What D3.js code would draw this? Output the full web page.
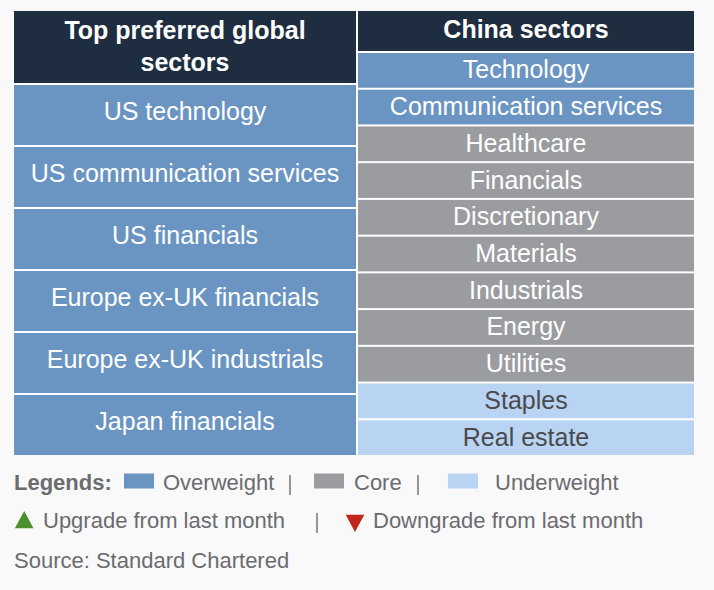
<!DOCTYPE html>
<html>
<head>
<meta charset="utf-8">
<script src="https://cdn.jsdelivr.net/npm/d3@7"></script>
<style>
html,body{margin:0;padding:0;background:#f9f9f9;}
svg{display:block;font-family:"Liberation Sans",Arial,Helvetica,sans-serif;}
</style>
</head>
<body>
<svg id="chart" width="714" height="590"></svg>
<script>
// ---- data ----
const headers = ["Top preferred global sectors", "China sectors"];
const globalSectors = ["US technology", "US communication services", "US financials",
  "Europe ex-UK financials", "Europe ex-UK industrials", "Japan financials"];
const globalViews = ["Overweight", "Overweight", "Overweight", "Overweight", "Overweight", "Overweight"];
const chinaSectors = ["Technology", "Communication services", "Healthcare", "Financials",
  "Discretionary", "Materials", "Industrials", "Energy", "Utilities", "Staples", "Real estate"];
const chinaViews = ["Overweight", "Overweight", "Core", "Core", "Core", "Core", "Core", "Core", "Core",
  "Underweight", "Underweight"];
const legendViews = ["Overweight", "Core", "Underweight"];
const changeLabels = ["Upgrade from last month", "Downgrade from last month"];
const sourceText = "Source: Standard Chartered";

// ---- styles ----
const fill = d3.scaleOrdinal().domain(["Overweight", "Core", "Underweight"])
  .range(["#6a94c1", "#9b9ca0", "#b9d4f2"]);
const textFill = d3.scaleOrdinal().domain(["Overweight", "Core", "Underweight"])
  .range(["#ffffff", "#ffffff", "#4a4a4d"]);
const headerFill = "#1f2d40";
const legendColor = "#6b6b70";

const svg = d3.select("#chart");

// table frame
const tLeft = 14, tMid = 357, tRight = 694, tTop = 11, tBottom = 455;
svg.append("rect").attr("x", tLeft).attr("y", tTop).attr("width", tRight - tLeft).attr("height", tBottom - tTop)
  .attr("fill", "#ffffff");

const xCol = d3.scaleOrdinal().domain([0, 1]).range([[tLeft, tMid - 1], [tMid + 1, tRight]]);

// headers
const lx = xCol(0), rx = xCol(1);
svg.append("rect").attr("x", lx[0]).attr("y", tTop).attr("width", lx[1] - lx[0]).attr("height", 72).attr("fill", headerFill);
svg.append("rect").attr("x", rx[0]).attr("y", tTop).attr("width", rx[1] - rx[0]).attr("height", 40).attr("fill", headerFill);

const h1 = svg.append("text").attr("x", (lx[0] + lx[1]) / 2).attr("text-anchor", "middle")
  .attr("font-size", 25).attr("font-weight", "bold").attr("fill", "#fff");
const words = headers[0].split(" ");
h1.append("tspan").attr("x", (lx[0] + lx[1]) / 2).attr("y", 39).text(words.slice(0, 3).join(" "));
h1.append("tspan").attr("x", (lx[0] + lx[1]) / 2).attr("y", 71).text(words.slice(3).join(" "));

svg.append("text").attr("x", (rx[0] + rx[1]) / 2).attr("y", 38).attr("text-anchor", "middle")
  .attr("font-size", 25).attr("font-weight", "bold").attr("fill", "#fff").text(headers[1]);

// left column
const yL = d3.scaleBand().domain(globalSectors).range([85, tBottom + 2]);
const gL = svg.append("g").selectAll("g").data(globalSectors).join("g");
gL.append("rect").attr("x", lx[0]).attr("y", d => yL(d)).attr("width", lx[1] - lx[0])
  .attr("height", yL.bandwidth() - 2).attr("fill", (d, i) => fill(globalViews[i]));
gL.append("text").attr("x", (lx[0] + lx[1]) / 2).attr("y", d => yL(d) + (yL.bandwidth() - 2) / 2 + 4.5)
  .attr("text-anchor", "middle").attr("font-size", 25).attr("fill", (d, i) => textFill(globalViews[i])).text(d => d);

// right column
const yR = d3.scaleBand().domain(chinaSectors).range([53, tBottom + 2]);
const gR = svg.append("g").selectAll("g").data(chinaSectors).join("g");
gR.append("rect").attr("x", rx[0]).attr("y", d => yR(d)).attr("width", rx[1] - rx[0])
  .attr("height", yR.bandwidth() - 2).attr("fill", (d, i) => fill(chinaViews[i]));
gR.append("text").attr("x", (rx[0] + rx[1]) / 2).attr("y", d => yR(d) + (yR.bandwidth() - 2) / 2 + 8)
  .attr("text-anchor", "middle").attr("font-size", 25).attr("fill", (d, i) => textFill(chinaViews[i])).text(d => d);

// legend row 1
const fs = 22;
svg.append("text").attr("x", 14).attr("y", 490).attr("font-size", fs).attr("font-weight", "bold")
  .attr("fill", legendColor).text("Legends:");
const swX = [124, 314, 448], labX = [163, 354, 495], sepX1 = [290, 418];
legendViews.forEach((v, i) => {
  svg.append("rect").attr("x", swX[i]).attr("y", 473.5).attr("width", 30).attr("height", 15).attr("fill", fill(v));
  svg.append("text").attr("x", labX[i]).attr("y", 490).attr("font-size", fs).attr("fill", legendColor).text(v);
});
sepX1.forEach(x => svg.append("line").attr("x1", x).attr("x2", x).attr("y1", 475).attr("y2", 495)
  .attr("stroke", legendColor).attr("stroke-width", 1.4));

// legend row 2
svg.append("path").attr("d", d3.symbol(d3.symbolTriangle, 150)())
  .attr("transform", "translate(24.2,522.5) scale(1,1.07)").attr("fill", "#4b8f2e");
svg.append("path").attr("d", d3.symbol(d3.symbolTriangle, 150)())
  .attr("transform", "translate(355,520.5) rotate(180) scale(1,1.07)").attr("fill", "#c0261d");
svg.append("text").attr("x", 43).attr("y", 528).attr("font-size", fs).attr("fill", legendColor).text(changeLabels[0]);
svg.append("text").attr("x", 373).attr("y", 528).attr("font-size", fs).attr("fill", legendColor).text(changeLabels[1]);
svg.append("line").attr("x1", 317).attr("x2", 317).attr("y1", 513).attr("y2", 533)
  .attr("stroke", legendColor).attr("stroke-width", 1.4);

// source
svg.append("text").attr("x", 14).attr("y", 568).attr("font-size", fs).attr("fill", legendColor).text(sourceText);
</script>
</body>
</html>
